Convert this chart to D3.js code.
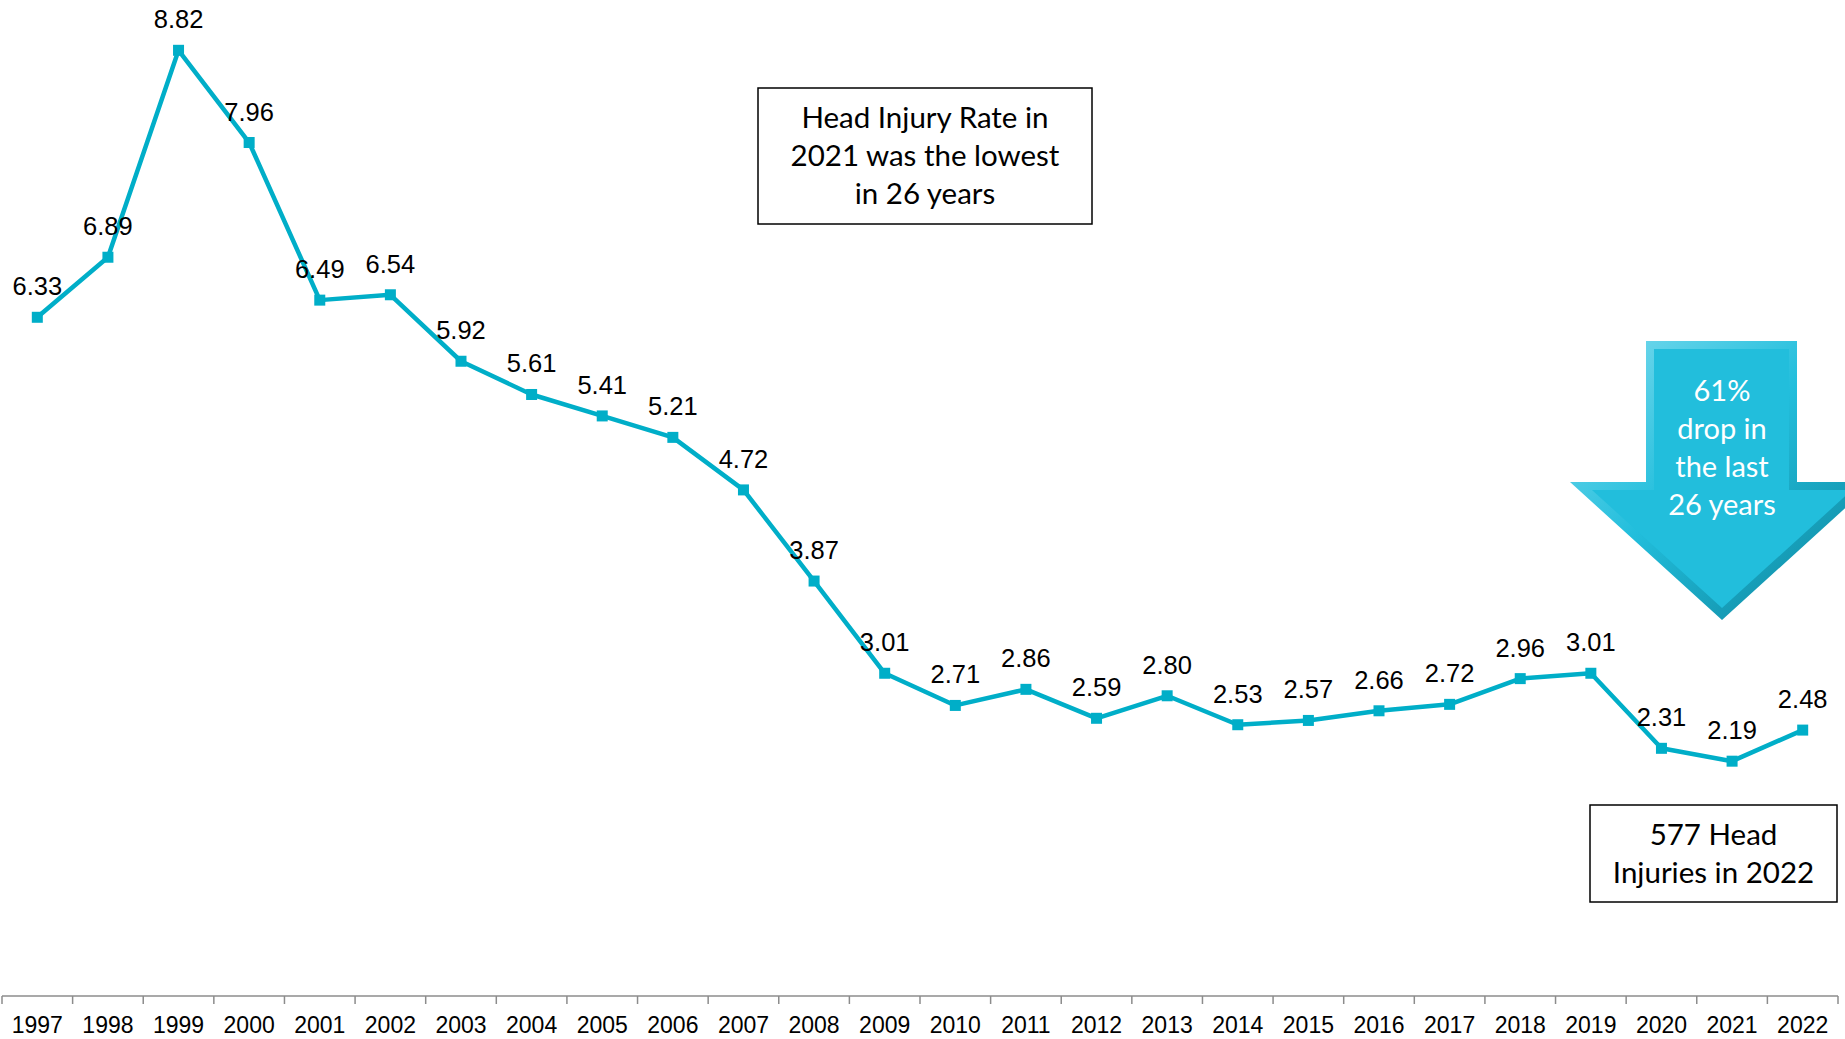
<!DOCTYPE html>
<html>
<head>
<meta charset="utf-8">
<script src="https://cdn.jsdelivr.net/npm/d3@7"></script>
<style>
  body { margin: 0; background: #fff; }
  svg { display: block; }
</style>
</head>
<body>
<svg id="chart"></svg>
<script>
// Chart data
const years = ["1997", "1998", "1999", "2000", "2001", "2002", "2003", "2004", "2005", "2006", "2007", "2008", "2009",
  "2010", "2011", "2012", "2013", "2014", "2015", "2016", "2017", "2018", "2019", "2020", "2021", "2022"];
const rates = [6.33, 6.89, 8.82, 7.96, 6.49, 6.54, 5.92, 5.61, 5.41, 5.21, 4.72, 3.87, 3.01,
  2.71, 2.86, 2.59, 2.80, 2.53, 2.57, 2.66, 2.72, 2.96, 3.01, 2.31, 2.19, 2.48];
const noteTop = ["Head Injury Rate in", "2021 was the lowest", "in 26 years"];
const noteBottom = ["577 Head", "Injuries in 2022"];
const arrowText = ["61%", "drop in", "the last", "26 years"];

const width = 1845, height = 1039;
const lineColor = "#00aec8";

const data = years.map((y, i) => ({ year: y, value: rates[i] }));

const svg = d3.select("#chart")
  .attr("width", width)
  .attr("height", height);

// Scales
const xScale = d3.scaleBand()
  .domain(years)
  .range([2, 1838]);

const yScale = d3.scaleLinear()
  .domain([0, 9])
  .range([996, 31]);

const axisY = 996;

// x-axis: line + boundary ticks
const edges = d3.scaleLinear().domain([0, years.length]).range(xScale.range());
svg.append("line")
  .attr("x1", edges(0)).attr("x2", edges(years.length))
  .attr("y1", axisY).attr("y2", axisY)
  .attr("stroke", "#8c8c8c").attr("stroke-width", 1.5);

svg.append("g")
  .selectAll("line")
  .data(d3.range(years.length + 1))
  .join("line")
  .attr("x1", d => edges(d)).attr("x2", d => edges(d))
  .attr("y1", axisY).attr("y2", axisY + 8)
  .attr("stroke", "#8c8c8c").attr("stroke-width", 1.5);

svg.append("g")
  .attr("transform", "translate(0," + axisY + ")")
  .call(d3.axisBottom(xScale).tickSize(0).tickPadding(21))
  .call(g => g.select(".domain").remove())
  .selectAll("text")
  .attr("font-family", "'Liberation Sans', Arial, sans-serif")
  .attr("font-size", "23px")
  .attr("fill", "#000");

// Line
svg.append("path")
  .datum(data)
  .attr("fill", "none")
  .attr("stroke", lineColor)
  .attr("stroke-width", 4.5)
  .attr("stroke-linejoin", "round")
  .attr("d", d3.line()
    .x(d => xScale(d.year) + xScale.bandwidth() / 2)
    .y(d => yScale(d.value)));

// Markers
svg.append("g")
  .selectAll("rect")
  .data(data)
  .join("rect")
  .attr("x", d => xScale(d.year) + xScale.bandwidth() / 2 - 5.5)
  .attr("y", d => yScale(d.value) - 5.5)
  .attr("width", 11)
  .attr("height", 11)
  .attr("fill", lineColor);

// Value labels
svg.append("g")
  .selectAll("text")
  .data(data)
  .join("text")
  .attr("x", d => xScale(d.year) + xScale.bandwidth() / 2)
  .attr("y", d => yScale(d.value) - 22)
  .attr("text-anchor", "middle")
  .attr("font-family", "'Liberation Sans', Arial, sans-serif")
  .attr("font-size", "25.5px")
  .attr("fill", "#000")
  .text(d => d.value.toFixed(2));

// Text boxes
function noteBox(x, y, w, h, lines, size, gap) {
  svg.append("rect")
    .attr("x", x).attr("y", y).attr("width", w).attr("height", h)
    .attr("fill", "#fff").attr("stroke", "#000").attr("stroke-width", 1.5);
  const mid = y + h / 2 - (lines.length - 1) * gap / 2;
  svg.append("g")
    .selectAll("text")
    .data(lines)
    .join("text")
    .attr("x", x + w / 2)
    .attr("y", (d, i) => mid + i * gap)
    .attr("dy", "0.35em")
    .attr("text-anchor", "middle")
    .attr("font-family", "Lato, 'Open Sans', sans-serif")
    .attr("font-size", size + "px")
    .attr("fill", "#000")
    .text(d => d);
}
noteBox(758, 88, 334, 136, noteTop, 29.5, 38);
noteBox(1590, 805, 247, 97, noteBottom, 29.5, 38);

// Down arrow with bevel
const defs = svg.append("defs");
const grad = defs.append("linearGradient")
  .attr("id", "bevel").attr("x1", "0").attr("y1", "0").attr("x2", "1").attr("y2", "1");
grad.append("stop").attr("offset", "0%").attr("stop-color", "#7fdcef");
grad.append("stop").attr("offset", "45%").attr("stop-color", "#22bedc");
grad.append("stop").attr("offset", "100%").attr("stop-color", "#0c7f96");

const outer = [[1646, 341], [1797, 341], [1797, 482], [1874, 482], [1722, 620], [1570, 482], [1646, 482]];
const inner = [[1654, 349], [1789, 349], [1789, 490], [1852, 490], [1722, 608], [1592, 490], [1654, 490]];
svg.append("polygon")
  .attr("points", outer.map(p => p.join(",")).join(" "))
  .attr("fill", "url(#bevel)");
svg.append("polygon")
  .attr("points", inner.map(p => p.join(",")).join(" "))
  .attr("fill", "#22bedc");

svg.append("g")
  .selectAll("text")
  .data(arrowText)
  .join("text")
  .attr("x", 1722)
  .attr("y", (d, i) => 391 + i * 38)
  .attr("dy", "0.35em")
  .attr("text-anchor", "middle")
  .attr("font-family", "Lato, 'Open Sans', sans-serif")
  .attr("font-size", "29px")
  .attr("fill", "#fff")
  .text(d => d);
</script>
</body>
</html>
